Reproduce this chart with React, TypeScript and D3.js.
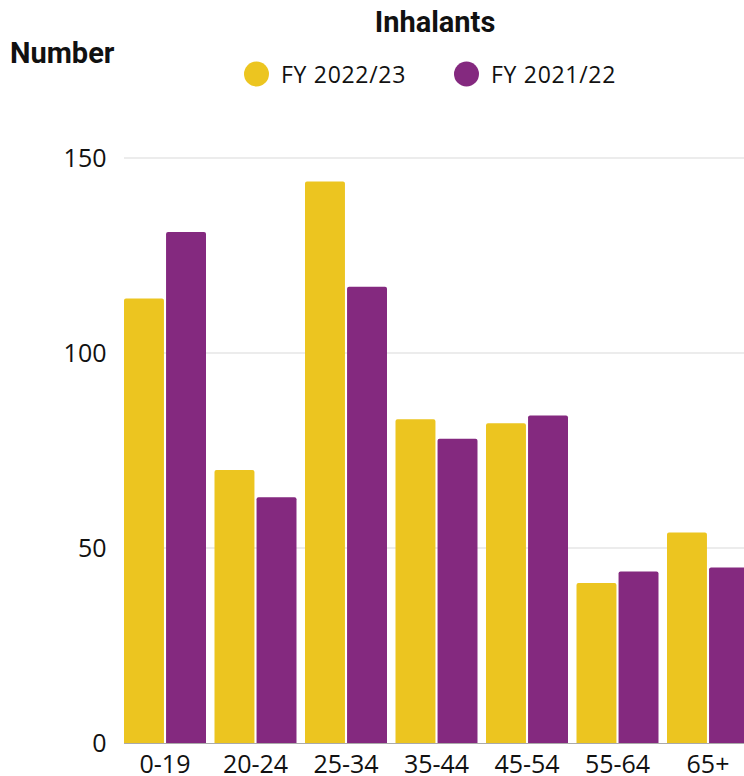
import React from "react";
import * as d3 from "d3";

const categories = ["0-19", "20-24", "25-34", "35-44", "45-54", "55-64", "65+"];
const seriesNames = ["FY 2022/23", "FY 2021/22"];
const fy2223 = [114, 70, 144, 83, 82, 41, 54];
const fy2122 = [131, 63, 117, 78, 84, 44, 45];
const yTicks = [0, 50, 100, 150];
const colors = ["#ECC520", "#84297F"];

const W = 744;
const H = 776;
const FONT = "'Open Sans', 'Noto Sans', sans-serif";
const BOLD = "Roboto, 'Noto Sans', sans-serif";

export default function App() {
  const x0 = d3
    .scaleBand<string>()
    .domain(categories)
    .range([119.75, 119.75 + 7 * 90.5])
    .paddingInner(0.094)
    .paddingOuter(0.047);
  const x1 = d3
    .scaleBand<string>()
    .domain(seriesNames)
    .range([0, x0.bandwidth()])
    .paddingInner(0.05);
  const y = d3.scaleLinear().domain([0, 150]).range([743, 158]);
  const series = [fy2223, fy2122];
  const legendX = [256.5, 466.5];

  const roundTop = (x: number, yTop: number, w: number, yBot: number, r: number) => {
    const p = d3.path();
    p.moveTo(x, yBot);
    p.lineTo(x, yTop + r);
    p.arcTo(x, yTop, x + r, yTop, r);
    p.lineTo(x + w - r, yTop);
    p.arcTo(x + w, yTop, x + w, yTop + r, r);
    p.lineTo(x + w, yBot);
    p.closePath();
    return p.toString();
  };

  return (
    <svg width={W} height={H} style={{ position: "absolute", left: 0, top: 0, background: "#fff" }} fontFamily={FONT}>
      <text x={435} y={32} textAnchor="middle" fontSize={29} fontWeight={700} fill="#111" fontFamily={BOLD}>
        Inhalants
      </text>
      <text x={10} y={63} fontSize={29} fontWeight={700} fill="#111" fontFamily={BOLD}>
        Number
      </text>
      {seriesNames.map((s, i) => {
        const cx = legendX[i];
        return (
          <g key={s}>
            <circle cx={cx} cy={74} r={12.5} fill={colors[i]} />
            <text x={cx + 24.5} y={82.5} fontSize={23} letterSpacing={0.7} fill="#111">
              {s}
            </text>
          </g>
        );
      })}
      {yTicks.map((t) => (
        <g key={t}>
          {t !== 0 && <line x1={124} x2={W} y1={y(t)} y2={y(t)} stroke="#d9d9d9" strokeWidth={1} />}
          <text x={106.5} y={y(t) + 9.3} textAnchor="end" fontSize={25} fill="#111">
            {t}
          </text>
        </g>
      ))}
      {categories.map((c, ci) => (
        <g key={c} transform={`translate(${x0(c)},0)`}>
          {seriesNames.map((s, si) => {
            const v = series[si][ci];
            return (
              <path
                key={s}
                d={roundTop(x1(s)!, y(v), x1.bandwidth(), y(0), 2)}
                fill={colors[si]}
              />
            );
          })}
          <text x={x0.bandwidth() / 2} y={773} textAnchor="middle" fontSize={25} fill="#111">
            {c}
          </text>
        </g>
      ))}
      <line x1={124} x2={W} y1={y(0) + 0.5} y2={y(0) + 0.5} stroke="#aaa" strokeWidth={1} />
    </svg>
  );
}
